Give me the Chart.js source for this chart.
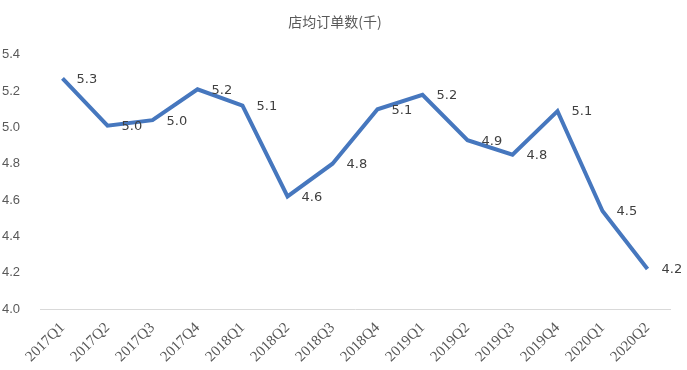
<!DOCTYPE html>
<html>
<head>
<meta charset="utf-8">
<script src="https://cdn.jsdelivr.net/npm/chart.js@4"></script>
<style>
  html, body { margin:0; padding:0; background:#fff; }
  #wrap { width:687px; height:370px; }
</style>
</head>
<body>
<div id="wrap"><canvas id="orderChart"></canvas></div>
<script>
const quarters = ['2017Q1','2017Q2','2017Q3','2017Q4','2018Q1','2018Q2','2018Q3','2018Q4',
                  '2019Q1','2019Q2','2019Q3','2019Q4','2020Q1','2020Q2'];
const ordersPerStore = [5.27, 5.01, 5.04, 5.21, 5.12, 4.62, 4.80, 5.10, 5.18, 4.93, 4.85, 5.09, 4.54, 4.22];
const yMin = 4.0, yMax = 5.4, yStep = 0.2;

// ── value labels to the right of each point ──
const pointLabels = {
  id:'pointLabels',
  afterDatasetsDraw(chart){
    const {ctx} = chart;
    const meta = chart.getDatasetMeta(0);
    ctx.save();
    ctx.font = '13px "DejaVu Sans", sans-serif';
    ctx.fillStyle = '#404040';
    ctx.textAlign = 'left';
    ctx.textBaseline = 'middle';
    meta.data.forEach((pt,i)=>{
      ctx.fillText(ordersPerStore[i].toFixed(1), pt.x + 14, pt.y + 1);
    });
    ctx.restore();
  }
};

new Chart(document.getElementById('orderChart'), {
  type:'line',
  data:{
    labels: quarters,
    datasets:[{
      label:'店均订单数(千)',
      data: ordersPerStore,
      borderColor:'#4677BE',
      borderWidth:4,
      pointRadius:0,
      tension:0,
      fill:false
    }]
  },
  options:{
    responsive:true,
    maintainAspectRatio:false,
    animation:false,
    layout:{ padding:{ left:0, right:17, top:0, bottom:0 } },
    plugins:{
      legend:{ display:false },
      tooltip:{ enabled:false },
      title:{
        display:true,
        text:'店均订单数(千)',
        color:'#595959',
        font:{ family:'"Noto Sans CJK SC", sans-serif', size:14, weight:'normal' },
        padding:{ top:13, bottom:25 }
      }
    },
    scales:{
      x:{
        offset:true,
        grid:{ display:false },
        border:{ display:true, color:'#D9D9D9', width:1 },
        ticks:{
          autoSkip:false, minRotation:45, maxRotation:45,
          color:'#595959', padding:2,
          font:{ family:'"Liberation Serif", serif', size:15 }
        },
        afterFit(scale){ scale.height = 61; scale.paddingLeft = 0; }
      },
      y:{
        min:yMin, max:yMax,
        grid:{ display:false },
        border:{ display:false },
        ticks:{
          stepSize:yStep, color:'#595959', padding:12,
          font:{ family:'"Liberation Sans", sans-serif', size:13 },
          callback:v=>v.toFixed(1)
        },
        afterFit(scale){ scale.width = 40; }
      }
    }
  },
  plugins:[pointLabels]
});
</script>
</body>
</html>
